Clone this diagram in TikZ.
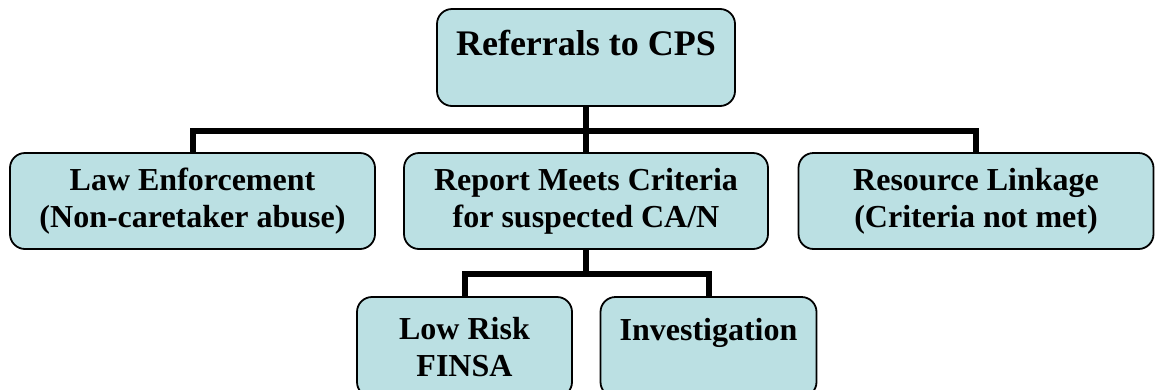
\documentclass[tikz,border=0pt]{standalone}
\usepackage{fontspec}
\setmainfont{Liberation Serif}
\definecolor{boxfill}{HTML}{BBE0E3}
\begin{document}
\begin{tikzpicture}[x=1pt,y=-1pt,
  box/.style={draw=black, line width=1.8pt, fill=boxfill, rounded corners=15pt,
    inner sep=0pt, font=\bfseries\fontsize{32}{37}\selectfont},
  link/.style={line width=6pt, black, line join=miter}]
\useasboundingbox (0,0) rectangle (1156,389);

% root
\node[box, minimum width=298pt, minimum height=97pt, text height=46pt, text depth=51pt,
  font=\bfseries\fontsize{36}{40}\selectfont] (root) at (586,57.5) {Referrals to CPS};

% second level
\node[box, align=center, minimum width=365pt, minimum height=96pt] (law) at (192.5,201)
  {Law Enforcement\\(Non-caretaker abuse)};
\node[box, align=center, minimum width=364pt, minimum height=96pt] (crit) at (586,201)
  {Report Meets Criteria\\for suspected CA/N};
\node[box, align=center, minimum width=355pt, minimum height=96pt] (res) at (976,201)
  {Resource Linkage\\(Criteria not met)};

% third level
\node[box, align=center, minimum width=215pt, minimum height=100pt] (low) at (464.5,347)
  {Low Risk\\FINSA};
\node[box, minimum width=216pt, minimum height=100pt, text height=43pt, text depth=57pt]
  (inv) at (708.5,347) {Investigation};

% connectors
\draw[link] (root.south) -- ++(0,24) coordinate (j1);
\draw[link] (law.north) |- (j1) -| (res.north);
\draw[link] (j1) -- (crit.north);
\draw[link] (crit.south) -- ++(0,24) coordinate (j2);
\draw[link] (low.north) |- (j2) -| (inv.north);
\end{tikzpicture}
\end{document}
